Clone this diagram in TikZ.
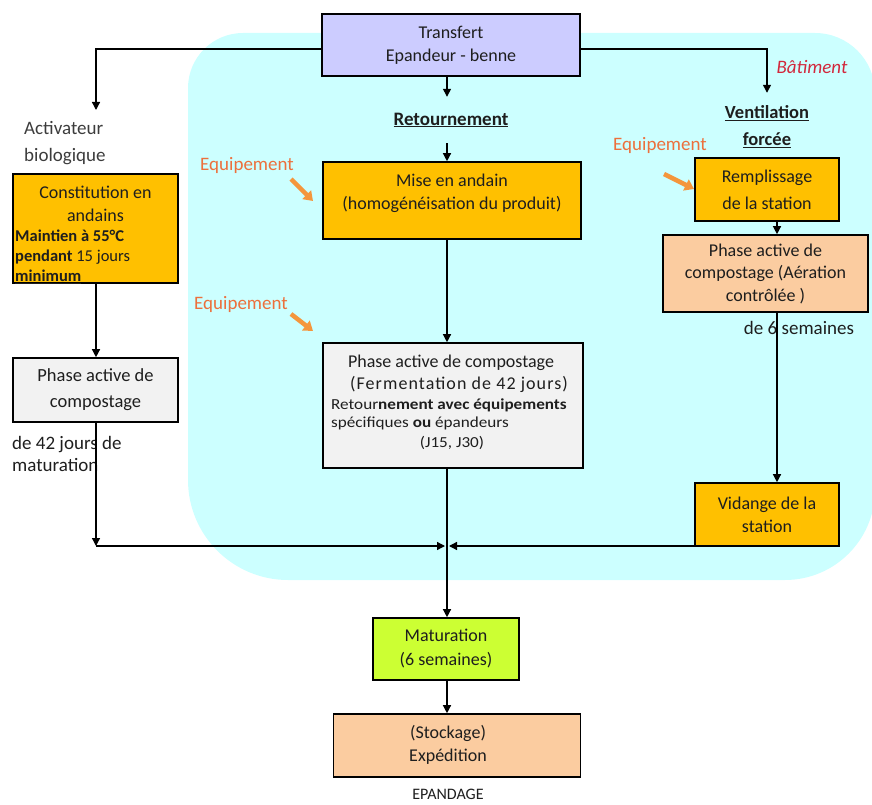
\documentclass[tikz,border=0pt]{standalone}
\usepackage{fontspec}
\setmainfont{Carlito}
\newfontfamily\widefont[FakeStretch=1.12]{Carlito}
\usetikzlibrary{arrows.meta}
\definecolor{bgcyan}{RGB}{204,255,255}
\definecolor{lav}{RGB}{204,204,255}
\definecolor{gold}{RGB}{255,192,0}
\definecolor{peach}{RGB}{251,204,160}
\definecolor{lgray}{RGB}{242,242,242}
\definecolor{lime}{RGB}{204,255,51}
\definecolor{eqtext}{RGB}{236,112,60}
\definecolor{eqarrow}{RGB}{244,150,60}
\definecolor{batred}{RGB}{210,40,60}
\definecolor{txt}{RGB}{30,30,30}
\newcommand\fs[2]{\fontsize{#1}{#2}\selectfont}
\begin{document}
\begin{tikzpicture}[x=1pt,y=-1pt,
 box/.style={draw=black,line width=1.6pt,inner sep=0pt,align=center,text=txt,font=\fs{18}{23}},
 lbl/.style={inner sep=0pt,align=center,text=txt,font=\fs{18}{23}},
 arr/.style={draw=black,line width=1.3pt,-{Triangle[length=8pt,width=8pt]}},
 eqarr/.style={draw=eqarrow,line width=4.5pt,-{Triangle[length=9pt,width=12pt]}},
 eq/.style={inner sep=0pt,text=eqtext,font=\fs{19}{22}},
]
\useasboundingbox (0,0) rectangle (872,805);
\begin{scope}
\clip (0,0) rectangle (872,805);
\fill[bgcyan] (188,88) .. controls (188,57.6) and (212.6,33) .. (243,33)
  -- (815,33) .. controls (848.1,33) and (875,59.9) .. (875,93)
  -- (875,490) .. controls (875,539.7) and (834.7,580) .. (785,580)
  -- (288,580) .. controls (232.8,580) and (188,535.2) .. (188,480) -- cycle;
\end{scope}

% coordinates
\coordinate (cx) at (447,0);
\coordinate (rx) at (777,0);
\coordinate (tl) at (96,49);
\coordinate (tr) at (767,49);
\coordinate (actTop) at (96,110);
\coordinate (jlc) at (96,546);
\coordinate (jl) at (445,546);
\coordinate (jr) at (449,546);

% boxes
\node[box,fill=lav,minimum width=258,minimum height=62] (transfert) at (451,45) {Transfert\\Epandeur - benne};
\node[box,fill=gold,minimum width=258,minimum height=77] (mise) at (452,200.5) {};
\node[lbl] (misetxt) at (452,193.5) {Mise en andain\\(homogénéisation du produit)};
\node[box,fill=gold,minimum width=165,minimum height=109] (const) at (95.5,228.5) {};
\node[lbl] (consttxt) at (95.5,204) {Constitution en\\andains};
\node[lbl,anchor=west,align=left,font=\fs{16.5}{20}] (constb) at (15,257) {\textbf{Maintien à 55°C}\\\textbf{pendant} 15 jours\\\textbf{\underline{minimum}}};
\node[box,fill=lgray,minimum width=165,minimum height=64,font=\fs{18.5}{26}] (lphase) at (95.5,390) {Phase active de\\compostage};
\node[box,fill=lgray,minimum width=260,minimum height=125] (cphase) at (453,405.5) {};
\node[lbl] (cp1) at (451,363) {Phase active de compostage};
\node[lbl] (cp2) at (459,384) {\addfontfeatures{LetterSpace=6}(Fermentation de 42 jours)};
\node[lbl,anchor=west,align=left,font=\widefont\fs{15.3}{18.5}] (cp3) at (331,414.5) {Retour\textbf{nement avec équipements}\\spécifiques \textbf{ou} épandeurs};
\node[lbl,font=\widefont\fs{15.3}{19}] (cp4) at (452,443) {(J15, J30)};
\node[box,fill=gold,minimum width=144,minimum height=63,font=\fs{18}{27}] (remp) at (767,189.5) {Remplissage\\de la station};
\node[box,fill=peach,minimum width=205,minimum height=77,font=\fs{18}{22.5}] (rphase) at (765.5,273.5) {Phase active de\\compostage (Aération\\contrôlée )};
\node[box,fill=gold,minimum width=144,minimum height=63] (vid) at (767,514.5) {Vidange de la\\station};
\node[box,fill=lime,minimum width=146,minimum height=62,font=\fs{18}{24}] (mat) at (446,649) {Maturation\\(6 semaines)};
\node[box,fill=peach,minimum width=247,minimum height=63] (stock) at (457,745.5) {};
\node[lbl] (stocktxt) at (448,744.5) {(Stockage)\\Expédition};
\node[lbl,font=\fs{16}{20}] (epand) at (448,794) {EPANDAGE};

% labels
\node[lbl,minimum height=46,font=\bfseries\fs{19}{23}] (ret) at (451,120) {\underline{Retournement}};
\node[lbl,minimum height=68,font=\bfseries\fs{18.5}{27}] (vent) at (767,127) {\underline{Ventilation}\\\underline{forcée}};
\node[lbl,anchor=west,align=left,text={rgb,255:red,60;green,60;blue,60},font=\fs{19}{27}] (act) at (24,143.5) {Activateur\\biologique};
\node[lbl,anchor=west,align=left,font=\fs{19}{22}] (mat42) at (12,454) {de 42 jours de\\maturation};
\node[lbl,font=\fs{19}{22}] (six) at (799,328) {de 6 semaines};
\node[inner sep=0pt,text=batred,font=\itshape\fs{19}{22}] (bat) at (812,67) {Bâtiment};
\node[eq] (eq1) at (247,165) {Equipement};
\node[eq] (eq2) at (241,304) {Equipement};
\node[eq] (eq3) at (660,145) {Equipement};

% orange arrows
\coordinate (e1s) at (291,179); \coordinate (e1e) at (313,201);
\coordinate (e2s) at (291,314); \coordinate (e2e) at (313,331);
\coordinate (e3s) at (664,174); \coordinate (e3e) at (694,189);
\draw[eqarr] (e1s) -- (e1e);
\draw[eqarr] (e2s) -- (e2e);
\draw[eqarr] (e3s) -- (e3e);

% connectors
\draw[arr] (transfert.west |- tl) -- (tl) -- (actTop);
\draw[arr] (transfert.east |- tr) -- (tr) -- (vent.north);
\draw[arr] (transfert.south -| cx) -- (ret.north -| cx);
\draw[arr] (ret.south -| cx) -- (mise.north -| cx);
\draw[arr] (mise.south -| cx) -- (cphase.north -| cx);
\draw[arr] (const.south -| tl) -- (lphase.north -| tl);
\draw[arr] (lphase.south -| tl) -- (jlc);
\draw[arr] (jlc) -- (jl);
\draw[arr] (remp.south -| rx) -- (rphase.north -| rx);
\draw[arr] (rphase.south -| rx) -- (vid.north -| rx);
\draw[arr] (vid.west |- jr) -- (jr);
\draw[arr] (cphase.south -| cx) -- (mat.north -| cx);
\draw[arr] (mat.south -| cx) -- (stock.north -| cx);
\end{tikzpicture}
\end{document}
